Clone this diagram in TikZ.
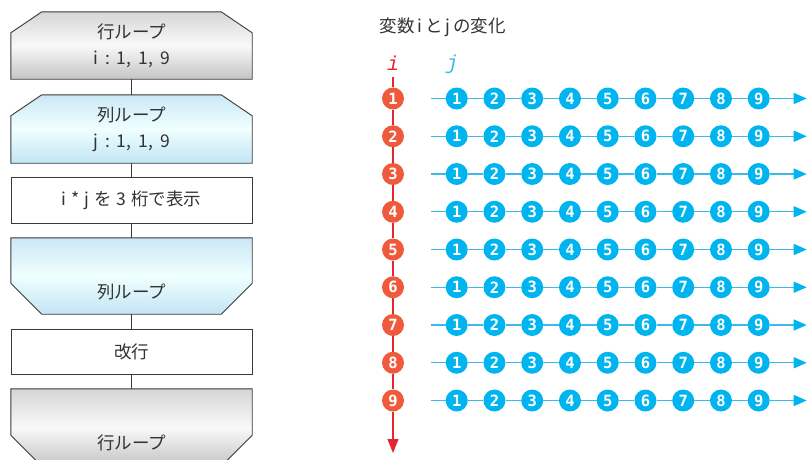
\documentclass[tikz,border=0pt]{standalone}
\usepackage{fontspec}
\setmainfont{Noto Sans CJK JP}
\newfontfamily\numfont{DejaVu Sans Mono}
\newfontfamily\varfont{Liberation Mono}
\usetikzlibrary{arrows.meta,calc}

\definecolor{linegray}{HTML}{3A3A3A}
\definecolor{textgray}{HTML}{333333}
\definecolor{graytop}{HTML}{D6D6D6}
\definecolor{graybot}{HTML}{C4C4C4}
\definecolor{bluetop}{HTML}{CBE8F6}
\definecolor{bluebot}{HTML}{C2E4F4}
\definecolor{iball}{HTML}{EF5A3D}
\definecolor{iline}{HTML}{E52530}
\definecolor{jball}{HTML}{00B5EF}
\definecolor{jline}{HTML}{3BB9EB}

\newcommand\gap{\hspace{0.28em}}
\newcommand\widegap{\hspace{0.4em}}

\tikzset{
  box/.style={minimum width=241pt, inner sep=0pt},
  graybox/.style={draw=linegray, line width=0.9pt, top color=graytop, bottom color=graybot, middle color=white!95!gray},
  bluebox/.style={draw=linegray, line width=0.9pt, top color=bluetop, bottom color=bluebot, middle color=white!94!cyan},
  plainbox/.style={box, draw=linegray, line width=0.9pt, fill=white},
  fctext/.style={text=textgray, align=center, font=\fontsize{17.5}{26}\selectfont},
  flowconn/.style={draw=linegray, line width=0.9pt},
  iball/.style={circle, fill=iball, minimum size=22pt, inner sep=0pt, text=white, font=\numfont\bfseries\fontsize{15.5}{15.5}\selectfont},
  jball/.style={circle, fill=jball, minimum size=22pt, inner sep=0pt, text=white, font=\numfont\bfseries\fontsize{15.5}{15.5}\selectfont},
  iconn/.style={draw=iline, line width=1.2pt},
  jconn/.style={draw=jline, line width=1.4pt},
  iarrow/.style={iconn, -{Triangle[length=14pt,width=11pt]}},
  jarrow/.style={jconn, -{Triangle[length=13pt,width=11pt,color=jball]}}
}

\begin{document}
\begin{tikzpicture}[x=1pt,y=-1pt]
\useasboundingbox (0,0) rectangle (807,459);

% flowchart
\node[box, minimum height=67pt] (rowstart) at (131.5,45.5) {};
\shadedraw[graybox] ($(rowstart.north west)+(31,0)$) -- ($(rowstart.north east)+(-31,0)$) -- ($(rowstart.north east)+(0,21)$) -- (rowstart.south east) -- (rowstart.south west) -- ($(rowstart.north west)+(0,21)$) -- cycle;
\node[fctext] (rowstart-t) at (rowstart) {行ループ\\i\widegap:\widegap 1,\widegap 1,\widegap 9};

\node[box, minimum height=68pt] (colstart) at (131.5,129) {};
\shadedraw[bluebox] ($(colstart.north west)+(31,0)$) -- ($(colstart.north east)+(-31,0)$) -- ($(colstart.north east)+(0,21)$) -- (colstart.south east) -- (colstart.south west) -- ($(colstart.north west)+(0,21)$) -- cycle;
\node[fctext] (colstart-t) at (colstart) {列ループ\\j\widegap:\widegap 1,\widegap 1,\widegap 9};

\node[plainbox, minimum height=46pt] (show) at (131.5,200) {};
\node[fctext] (show-t) at (show) {i\gap *\gap j\gap を\gap 3\gap 桁で表示};

\node[box, minimum height=76pt] (colend) at (131.5,276) {};
\shadedraw[bluebox] (colend.north west) -- (colend.north east) -- ($(colend.south east)+(0,-31)$) -- ($(colend.south east)+(-31,0)$) -- ($(colend.south west)+(31,0)$) -- ($(colend.south west)+(0,-31)$) -- cycle;
\node[fctext] (colend-t) at ($(colend.south)+(0,-22)$) {列ループ};

\node[plainbox, minimum height=45pt] (newline) at (131.5,351.5) {};
\node[fctext] (newline-t) at (newline) {改行};

\node[box, minimum height=77pt] (rowend) at (131.5,427.5) {};
\shadedraw[graybox] (rowend.north west) -- (rowend.north east) -- ($(rowend.south east)+(0,-31)$) -- ($(rowend.south east)+(-31,0)$) -- ($(rowend.south west)+(31,0)$) -- ($(rowend.south west)+(0,-31)$) -- cycle;
\node[fctext] (rowend-t) at ($(rowend.south)+(0,-23)$) {行ループ};

\draw[flowconn] (rowstart) -- (colstart);
\draw[flowconn] (colstart) -- (show);
\draw[flowconn] (show) -- (colend);
\draw[flowconn] (colend) -- (newline);
\draw[flowconn] (newline) -- (rowend);

% i and j
\node[fctext, anchor=west] (title) at (376,27) {変数\,i\,と\,j\,の変化};
\node[text=iline, font=\varfont\itshape\fontsize{20}{20}\selectfont] (ilabel) at (393,63) {i};
\node[text=jline, font=\varfont\itshape\fontsize{20}{20}\selectfont] (jlabel) at (452,64) {j};

\coordinate (itop) at (393,77);
\coordinate (iend) at (393,453);
\foreach \i in {1,...,9} {
  \node[iball] (r\i) at (393,{98.5+37.75*(\i-1)}) {\i};
  \coordinate (s\i) at (431,{98.5+37.75*(\i-1)});
  \coordinate (e\i) at (806.7,{98.5+37.75*(\i-1)});
  \foreach \j in {1,...,9}
    \node[jball] (b\i-\j) at ({456.7+37.75*(\j-1)},{98.5+37.75*(\i-1)}) {\j};
}
\draw[iconn] (itop) -- (r1);
\foreach \i [count=\k from 2] in {1,...,8}
  \draw[iconn] (r\i) -- (r\k);
\draw[iarrow] (r9) -- (iend);
\foreach \i in {1,...,9} {
  \draw[jconn] (s\i) -- (b\i-1);
  \foreach \j [count=\k from 2] in {1,...,8}
    \draw[jconn] (b\i-\j) -- (b\i-\k);
  \draw[jarrow] (b\i-9) -- (e\i);
}
\end{tikzpicture}
\end{document}
